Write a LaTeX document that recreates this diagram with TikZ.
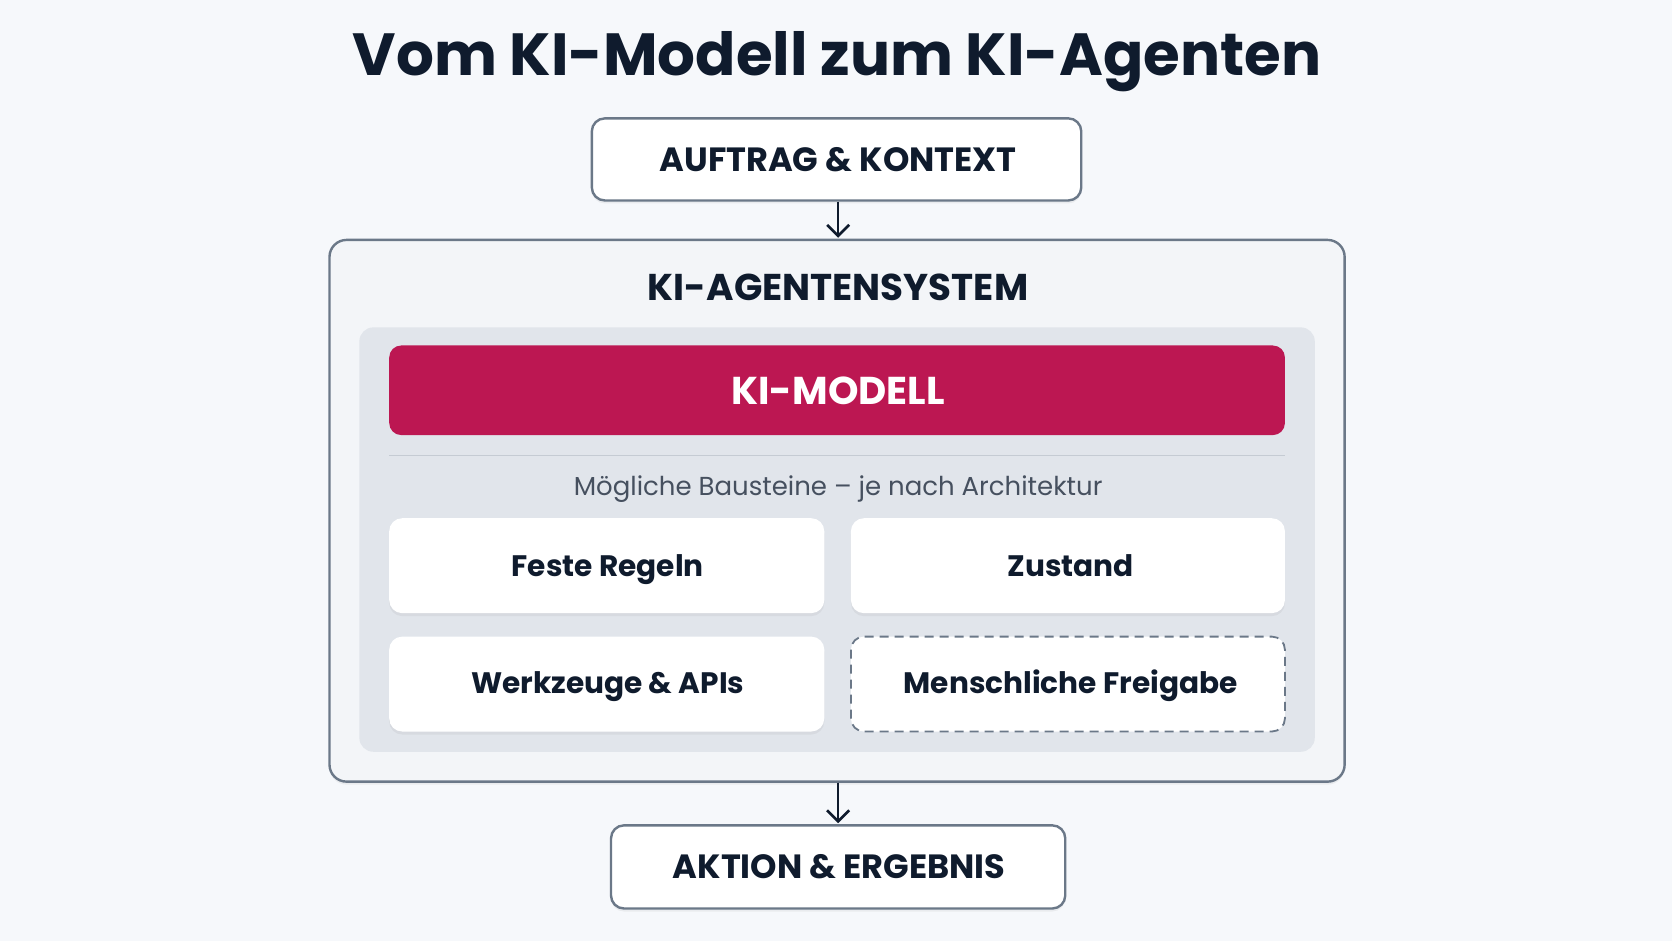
\documentclass[tikz,border=0pt]{standalone}
\usepackage{fontspec}
\setmainfont{Poppins}
\usetikzlibrary{shadows,arrows.meta}
\definecolor{bg}{HTML}{F6F8FB}
\definecolor{ink}{HTML}{0F1B2D}
\definecolor{frame}{HTML}{6B7888}
\definecolor{outerfill}{HTML}{F3F5F8}
\definecolor{panel}{HTML}{E1E5EB}
\definecolor{crimson}{HTML}{BC1752}
\definecolor{subtext}{HTML}{46505F}
\definecolor{rule}{HTML}{C5CBD3}
\definecolor{dashc}{HTML}{6B7888}
\tikzset{
  x=1.066327pt, y=-1.066327pt,
  shad/.style={drop shadow={opacity=0.10, shadow xshift=0pt, shadow yshift=-3pt}},
  endbox/.style={draw=frame, line width=2.4pt, fill=white, rounded corners=13pt, shad},
  tile/.style={fill=white, rounded corners=13pt, shad},
  dtile/.style={draw=dashc, line width=1.8pt, dash pattern=on 9pt off 6pt, fill=white, rounded corners=13pt},
  capc/.style={text height=#1, text depth=0pt, inner sep=0pt},
  lab/.style={capc=23.5pt, text=ink, font=\fontsize{33.6}{38}\selectfont\bfseries},
  tlab/.style={capc=20.7pt, text=ink, font=\fontsize{29.6}{36}\selectfont\bfseries},
  arr/.style={draw=ink, line width=2.7pt, -{Straight Barb[length=11pt,width=22pt,line width=2.7pt]}}
}
\begin{document}
\begin{tikzpicture}
\useasboundingbox (0,0) rectangle (1568,882.45);
\fill[bg] (0,0) rectangle (1568,882.45);
% title
\node[capc=41.5pt, text=ink, font=\fontsize{59.5}{66}\selectfont\bfseries] (title) at (785,51) {Vom KI-Modell zum KI-Agenten};
% top box
\path[endbox] (555,111) rectangle (1014,188);
\node[lab] (auftrag) at (786,150) {AUFTRAG \& KONTEXT};
\coordinate (auftragS) at (786,189);
% outer box
\path[draw=frame, line width=2.4pt, fill=outerfill, rounded corners=17pt, shad] (309,225) rectangle (1261,733);
\coordinate (sysN) at (786,223);
\coordinate (sysS) at (786,734);
\node[capc=26.1pt, text=ink, font=\fontsize{37.3}{42}\selectfont\bfseries] (system) at (786,270) {KI-AGENTENSYSTEM};
% panel
\fill[panel, rounded corners=14pt] (337,307) rectangle (1233,705);
% KI-Modell
\fill[crimson, rounded corners=12pt] (365,324) rectangle (1205,408);
\node[capc=27.2pt, text=white, font=\fontsize{38.8}{44}\selectfont\bfseries] (modell) at (786,367) {KI-MODELL};
\draw[rule, line width=1.6pt] (365,427) -- (1205,427);
\node[capc=18.2pt, text=subtext, font=\fontsize{26}{30}\selectfont] (bausteine) at (786,456) {Mögliche Bausteine – je nach Architektur};
% tiles
\path[tile] (365,486) rectangle (773,575);
\path[tile] (798,486) rectangle (1205,575);
\path[tile] (365,597) rectangle (773,686);
\path[dtile] (798,597) rectangle (1205,686);
\node[tlab] (regeln) at (570,531) {Feste Regeln};
\node[tlab] (zustand) at (1004,531) {Zustand};
\node[tlab] (werkzeuge) at (570,641) {Werkzeuge \& APIs};
\node[tlab] (freigabe) at (1004,641) {Menschliche Freigabe};
% bottom box
\path[endbox] (573,774) rectangle (999,852);
\node[lab] (aktion) at (787,813) {AKTION \& ERGEBNIS};
\coordinate (aktionN) at (786,772);
% arrows
\draw[arr] (auftragS) -- (sysN);
\draw[arr] (sysS) -- (aktionN);
\end{tikzpicture}
\end{document}
